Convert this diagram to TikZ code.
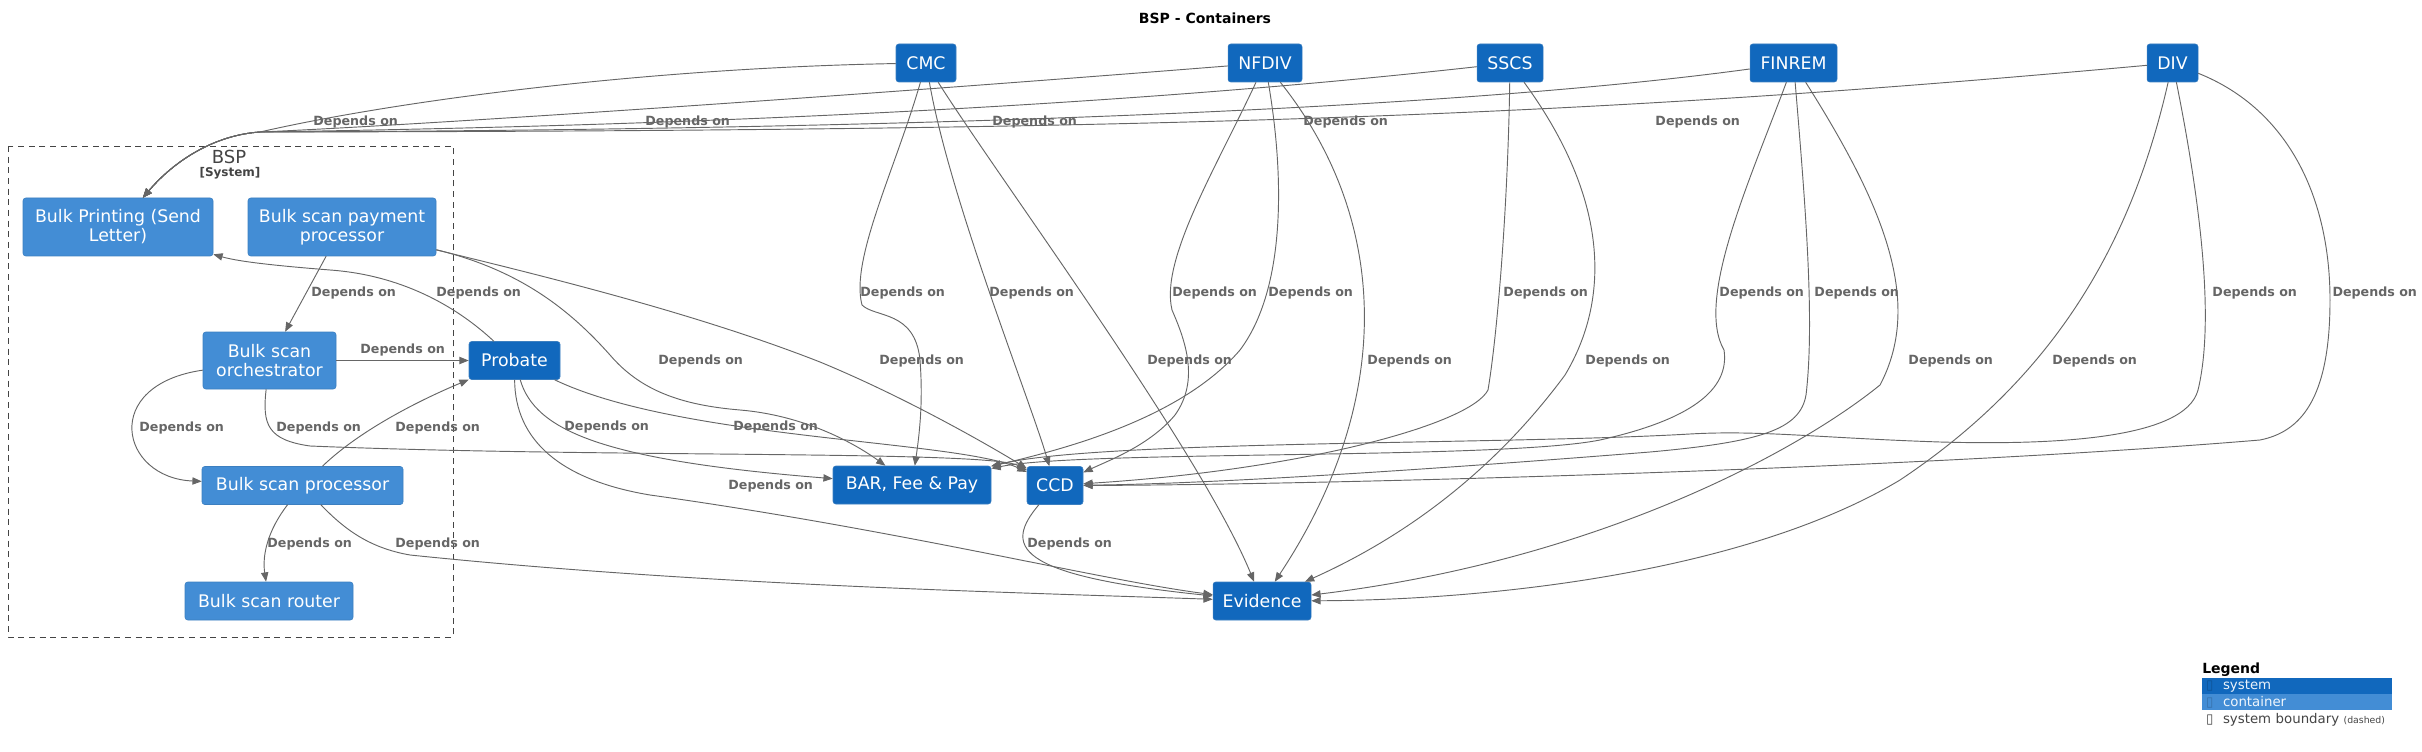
\documentclass[tikz,border=0pt]{standalone}
\usepackage{fontspec}
\setmainfont{DejaVu Sans}
\usetikzlibrary{arrows.meta}
\definecolor{sysblue}{HTML}{1168BD}
\definecolor{contblue}{HTML}{438DD5}
\definecolor{boxline}{HTML}{3C7FC0}
\definecolor{relgray}{HTML}{666666}
\definecolor{bndgray}{HTML}{444444}
\tikzset{
    box/.style={
           rectangle,
           rounded corners=2pt,
           draw=boxline, line width=0.4pt,
           text=white,
           inner sep=0pt,
           minimum height=28.5pt,
           align=center,
           font=\fontsize{13}{14.25}\selectfont,
           },
    system/.style={box, fill=sysblue},
    container/.style={box, fill=contblue},
    dep/.style={draw=relgray, line width=0.7pt, -{Triangle[length=7pt,width=5.5pt]}},
    deplabel/.style={anchor=west, inner sep=0pt, text=relgray,
           font=\fontsize{9.5}{11}\selectfont\bfseries},
    bspboundary/.style={draw=bndgray, line width=0.7pt, dash pattern=on 4.5pt off 3.5pt},
    legendrow/.style={rectangle, minimum width=142.5pt, minimum height=12pt,
           text width=136.5pt, inner xsep=3pt, inner ysep=0pt, align=left,
           font=\fontsize{10}{12}\selectfont},
}

\begin{document}
\begin{tikzpicture}[x=0.75pt, y=-0.75pt]
    \useasboundingbox (0,0) rectangle (2422,752);

    % title
    \node[font=\fontsize{10.5}{12}\selectfont\bfseries] (title) at (1205,18) {BSP - Containers};

    % BSP system boundary
    \draw[bspboundary] (8,146) rectangle (453,637);
    \node[text=bndgray, inner sep=0pt, font=\fontsize{13.5}{15}\selectfont] (bsplabel) at (229,157) {BSP};
    \node[text=bndgray, inner sep=0pt, font=\fontsize{9}{10}\selectfont\bfseries] (bsptype) at (230,173) {[System]};

    % containers inside BSP
    \node[container, minimum width=142.5pt, minimum height=43.5pt] (bulkprint) at (118,227) {Bulk Printing (Send\\Letter)};
    \node[container, minimum width=141pt, minimum height=43.5pt] (payproc) at (342,227) {Bulk scan payment\\processor};
    \node[container, minimum width=99.75pt, minimum height=42.75pt] (orch) at (269.5,360.5) {Bulk scan\\orchestrator};
    \node[container, minimum width=150.75pt] (scanproc) at (302.5,485.5) {Bulk scan processor};
    \node[container, minimum width=126pt] (router) at (269,601) {Bulk scan router};

    % other systems
    \node[system, minimum width=68.25pt] (probate) at (514.5,360.5) {Probate};
    \node[system, minimum width=45pt] (cmc) at (926,63) {CMC};
    \node[system, minimum width=55.5pt] (nfdiv) at (1265,63) {NFDIV};
    \node[system, minimum width=49.5pt] (sscs) at (1510,63) {SSCS};
    \node[system, minimum width=65.25pt] (finrem) at (1793.5,63) {FINREM};
    \node[system, minimum width=38.25pt] (div) at (2172.5,63) {DIV};
    \node[system, minimum width=118.5pt] (bar) at (912,485) {BAR, Fee \& Pay};
    \node[system, minimum width=42pt] (ccd) at (1055,485.5) {CCD};
    \node[system, minimum width=73.5pt] (evidence) at (1262,601) {Evidence};

    % everybody sends letters through Bulk Printing
    \draw[dep] (cmc) .. controls (650,68) and (400,100) .. (260,132) .. controls (215,135) and (175,160) .. (bulkprint)
        node[deplabel] at (313,122) {Depends on};
    \draw[dep] (nfdiv) .. controls (800,100) and (400,126) .. (260,132) .. controls (215,135) and (175,160) .. (bulkprint)
        node[deplabel] at (645,122) {Depends on};
    \draw[dep] (sscs) .. controls (1000,120) and (450,129) .. (260,132) .. controls (215,135) and (175,160) .. (bulkprint)
        node[deplabel] at (992,122) {Depends on};
    \draw[dep] (finrem) .. controls (1450,110) and (900,130) .. (260,132) .. controls (215,135) and (175,160) .. (bulkprint)
        node[deplabel] at (1303,122) {Depends on};
    \draw[dep] (div) .. controls (1600,115) and (1200,131) .. (260,132) .. controls (215,135) and (175,160) .. (bulkprint)
        node[deplabel] at (1655,122) {Depends on};

    % CMC
    \draw[dep] (cmc) .. controls (895,170) and (850,260) .. (862,305) .. controls (875,318) and (915,310) .. (920,360)
        .. controls (923,400) and (920,430) .. (bar)
        node[deplabel] at (860,293) {Depends on};
    \draw[dep] (cmc) .. controls (950,200) and (1030,400) .. (ccd)
        node[deplabel] at (989,293) {Depends on};
    \draw[dep] (cmc) .. controls (1000,180) and (1200,450) .. (evidence)
        node[deplabel] at (1147,361) {Depends on};

    % NFDIV
    \draw[dep] (nfdiv) .. controls (1215,170) and (1160,260) .. (1172,310) .. controls (1185,340) and (1200,380) .. (1175,415)
        .. controls (1150,445) and (1110,460) .. (ccd)
        node[deplabel] at (1172,293) {Depends on};
    \draw[dep] (nfdiv) .. controls (1285,180) and (1285,290) .. (1240,350) .. controls (1180,420) and (1060,450) .. (bar)
        node[deplabel] at (1268,293) {Depends on};
    \draw[dep] (nfdiv) .. controls (1390,220) and (1395,400) .. (evidence)
        node[deplabel] at (1367,361) {Depends on};

    % SSCS
    \draw[dep] (sscs) .. controls (1508,200) and (1498,330) .. (1488,390) .. controls (1470,425) and (1300,470) .. (ccd)
        node[deplabel] at (1503,293) {Depends on};
    \draw[dep] (sscs) .. controls (1610,200) and (1610,300) .. (1565,375) .. controls (1480,490) and (1380,548) .. (evidence)
        node[deplabel] at (1585,361) {Depends on};

    % FINREM
    \draw[dep] (finrem) .. controls (1750,180) and (1695,300) .. (1724,350) .. controls (1730,390) and (1690,420) .. (1600,440)
        .. controls (1500,460) and (1080,450) .. (bar)
        node[deplabel] at (1719,293) {Depends on};
    \draw[dep] (finrem) .. controls (1805,200) and (1815,320) .. (1806,395) .. controls (1800,430) and (1760,442) .. (1650,452)
        .. controls (1400,472) and (1200,484) .. (ccd)
        node[deplabel] at (1814,293) {Depends on};
    \draw[dep] (finrem) .. controls (1880,200) and (1925,300) .. (1880,385) .. controls (1800,450) and (1600,560) .. (evidence)
        node[deplabel] at (1908,361) {Depends on};

    % DIV
    \draw[dep] (div) .. controls (2200,200) and (2215,320) .. (2198,390) .. controls (2185,440) and (2050,445) .. (1940,442)
        .. controls (1820,438) and (1760,430) .. (1690,434) .. controls (1500,445) and (1100,440) .. (bar)
        node[deplabel] at (2212,293) {Depends on};
    \draw[dep] (div) .. controls (2290,110) and (2330,200) .. (2330,300) .. controls (2330,400) and (2300,432) .. (2260,440)
        .. controls (1900,470) and (1300,485) .. (ccd)
        node[deplabel] at (2332,293) {Depends on};
    \draw[dep] (div) .. controls (2130,250) and (2050,380) .. (1900,480) .. controls (1750,570) and (1500,600) .. (evidence)
        node[deplabel] at (2052,361) {Depends on};

    % Bulk scan payment processor
    \draw[dep] (payproc) -- (orch)
        node[deplabel] at (311,293) {Depends on};
    \draw[dep] (payproc) .. controls (520,270) and (570,310) .. (610,355) .. controls (640,390) and (680,405) .. (740,410)
        .. controls (800,415) and (850,440) .. (bar)
        node[deplabel] at (658,361) {Depends on};
    \draw[dep] (payproc) .. controls (560,280) and (700,315) .. (820,362) .. controls (900,395) and (980,440) .. (ccd)
        node[deplabel] at (879,361) {Depends on};

    % Bulk scan orchestrator
    \draw[dep] (orch) -- (probate)
        node[deplabel] at (360,350) {Depends on};
    \draw[dep] (orch) .. controls (100,385) and (120,478) .. (scanproc)
        node[deplabel] at (139,428) {Depends on};
    \draw[dep] (orch) .. controls (262,425) and (268,440) .. (310,446) .. controls (600,458) and (990,450) .. (ccd)
        node[deplabel] at (276,428) {Depends on};

    % Bulk scan processor
    \draw[dep] (scanproc) .. controls (360,430) and (420,400) .. (probate)
        node[deplabel] at (395,428) {Depends on};
    \draw[dep] (scanproc) .. controls (268,530) and (262,555) .. (router)
        node[deplabel] at (267,544) {Depends on};
    \draw[dep] (scanproc) .. controls (345,530) and (370,548) .. (410,555) .. controls (700,585) and (1000,592) .. (evidence)
        node[deplabel] at (395,544) {Depends on};

    % Probate
    \draw[dep] (probate) .. controls (455,305) and (400,275) .. (330,270) .. controls (280,266) and (240,262) .. (bulkprint)
        node[deplabel] at (436,293) {Depends on};
    \draw[dep] (probate) .. controls (535,430) and (600,460) .. (bar)
        node[deplabel] at (564,427) {Depends on};
    \draw[dep] (probate) .. controls (680,440) and (960,440) .. (ccd)
        node[deplabel] at (733,427) {Depends on};
    \draw[dep] (probate) .. controls (515,440) and (560,480) .. (650,495) .. controls (900,530) and (1100,580) .. (evidence)
        node[deplabel] at (728,486) {Depends on};

    % CCD
    \draw[dep] (ccd) .. controls (1005,545) and (1010,575) .. (evidence)
        node[deplabel] at (1027,544) {Depends on};

    % legend
    \node[anchor=west, inner sep=0pt, font=\fontsize{10.5}{12}\selectfont\bfseries] (legtitle) at (2202,670) {Legend};
    \node[legendrow, fill=sysblue, text=white!92!sysblue] (legsystem) at (2297,686)
        {\makebox[12.75pt][l]{\textcolor{sysblue!80!black}{▯}}system};
    \node[legendrow, fill=contblue, text=white!92!contblue] (legcontainer) at (2297,702)
        {\makebox[12.75pt][l]{\textcolor{contblue!80!black}{▯}}container};
    \node[legendrow, text=bndgray] (legboundary) at (2297,720)
        {\makebox[12.75pt][l]{▯}system boundary {\fontsize{7}{8}\selectfont (dashed)}};
\end{tikzpicture}
\end{document}
